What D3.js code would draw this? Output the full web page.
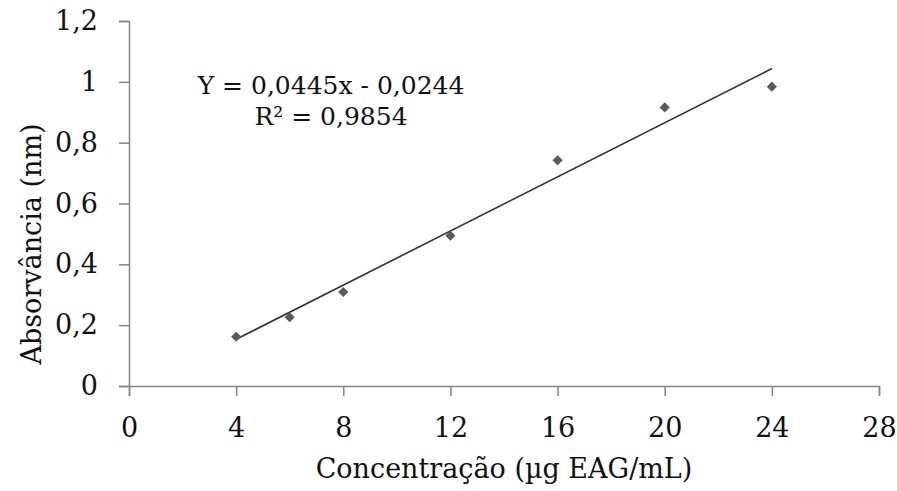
<!DOCTYPE html>
<html>
<head>
<meta charset="utf-8">
<script src="https://cdn.jsdelivr.net/npm/d3@7"></script>
<style>
	body { margin: 0; background: #fff; }
	text { font-family: "DejaVu Serif", serif; fill: #111; }
</style>
</head>
<body>
<div id="chart"></div>
<script>

// data

var concentrations = [4, 6, 8, 12, 16, 20, 24];
var absorbances = [0.162, 0.226, 0.309, 0.494, 0.742, 0.916, 0.984];
var xTicks = [0, 4, 8, 12, 16, 20, 24, 28];
var yTicks = [0, 0.2, 0.4, 0.6, 0.8, 1, 1.2];
var slope = 0.0445;
var intercept = -0.0244;
var equationLines = ["Y = 0,0445x - 0,0244", "R² = 0,9854"];

// size of chart area

var svgWidth = 897;
var svgHeight = 491;

var margin = { top: 21, right: 18, bottom: 105, left: 129 };

var width = svgWidth - margin.left - margin.right;
var height = svgHeight - margin.top - margin.bottom;

var svg = d3.select("#chart")
	.append("svg")
	.attr("width", svgWidth)
	.attr("height", svgHeight);

var chartGroup = svg.append("g")
	.attr("transform", `translate(${margin.left}, ${margin.top})`);

// scales

var xLinearScale = d3.scaleLinear().domain([0, 28]).range([0, 750]);
var yLinearScale = d3.scaleLinear().domain([0, 1.2]).range([height, 0]);

var fmt = d => String(d).replace(".", ",");

// axes

var bottomAxis = d3.axisBottom(xLinearScale)
	.tickValues(xTicks)
	.tickSize(10)
	.tickPadding(22)
	.tickFormat(fmt);

var leftAxis = d3.axisLeft(yLinearScale)
	.tickValues(yTicks)
	.tickSize(10)
	.tickPadding(21)
	.tickFormat(fmt);

var xAxis = chartGroup.append("g")
	.attr("transform", `translate(0, ${height})`)
	.call(bottomAxis);

var yAxis = chartGroup.append("g")
	.call(leftAxis);

[xAxis, yAxis].forEach(function(ax) {
	ax.select(".domain").attr("stroke", "#868686").attr("stroke-width", 1.5);
	ax.selectAll(".tick line").attr("stroke", "#868686").attr("stroke-width", 1.5);
	ax.selectAll(".tick text")
		.style("font-family", "DejaVu Serif")
		.style("font-size", "27px")
		.attr("fill", "#111");
});

// trend line

var trend = d3.line()
	.x(d => xLinearScale(d))
	.y(d => yLinearScale(slope * d + intercept));

chartGroup.append("path")
	.datum([d3.min(concentrations), d3.max(concentrations)])
	.attr("d", trend)
	.attr("fill", "none")
	.attr("stroke", "#333")
	.attr("stroke-width", 1.6);

// diamond markers (square turned 45 degrees)

chartGroup.selectAll(".pt")
	.data(concentrations)
	.enter()
	.append("path")
	.attr("class", "pt")
	.attr("transform", (d, i) => `translate(${xLinearScale(d)}, ${yLinearScale(absorbances[i])}) rotate(45)`)
	.attr("d", d3.symbol().type(d3.symbolSquare).size(52))
	.attr("fill", "#5a5a5a");

// equation text

chartGroup.selectAll(".eq")
	.data(equationLines)
	.enter()
	.append("text")
	.attr("class", "eq")
	.attr("x", 202)
	.attr("y", (d, i) => 73 + i * 31)
	.attr("text-anchor", "middle")
	.style("font-size", "25px")
	.text(d => d);

// axis labels

chartGroup.append("text")
	.attr("x", 375)
	.attr("y", height + 92)
	.attr("text-anchor", "middle")
	.style("font-size", "27px")
	.text("Concentração (µg EAG/mL)");

chartGroup.append("text")
	.attr("transform", "rotate(-90)")
	.attr("x", -(244 - margin.top))
	.attr("y", -88)
	.attr("text-anchor", "middle")
	.style("font-size", "27px")
	.text("Absorvância (nm)");

</script>
</body>
</html>
